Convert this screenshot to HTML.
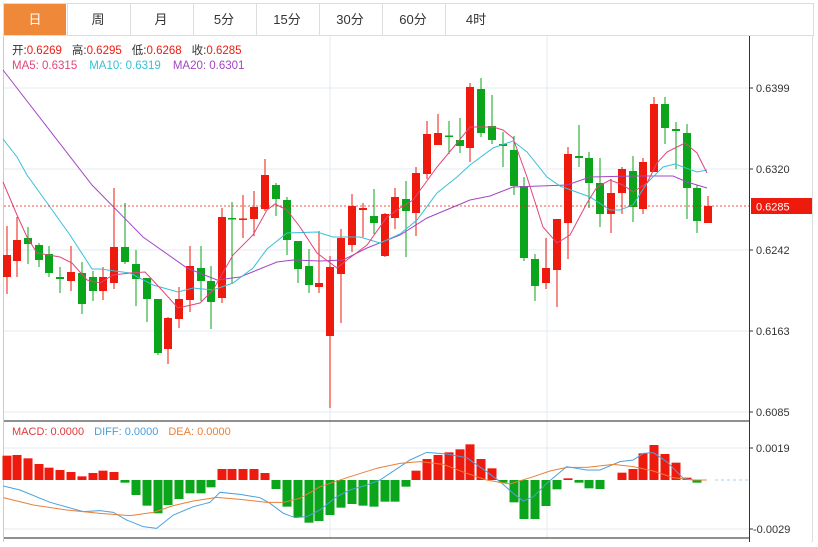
<!DOCTYPE html>
<html><head><meta charset="utf-8"><style>
body{margin:0;background:#fff;width:818px;height:542px;overflow:hidden;font-family:"Liberation Sans","Noto Sans CJK SC",sans-serif}
</style></head><body>
<svg id="s" width="818" height="542" xmlns="http://www.w3.org/2000/svg" font-family="Liberation Sans, Noto Sans CJK SC, sans-serif"></svg>
<script>
const s=document.getElementById('s');let h='';
h+='<rect x="3.5" y="3.5" width="810" height="32" fill="#fff" stroke="#ddd"/>';
const tabs=['日','周','月','5分','15分','30分','60分','4时'];
for(let i=0;i<8;i++){const x=4+i*63;
 if(i==0)h+=`<rect x="4" y="4" width="62" height="31" fill="#f0883a"/>`;
 else h+=`<line x1="${x+0.5}" y1="4" x2="${x+0.5}" y2="35" stroke="#ddd"/>`;
 h+=`<text x="${x+31}" y="24" font-size="13" text-anchor="middle" fill="${i==0?'#fff':'#333'}">${tabs[i]}</text>`;}
h+='<line x1="3.5" y1="36" x2="3.5" y2="542" stroke="#ccc"/>';
h+='<line x1="812.5" y1="36" x2="812.5" y2="542" stroke="#ddd"/>';
[88,169,250,331,412].forEach(y=>h+=`<line x1="4" y1="${y}" x2="749" y2="${y}" stroke="#e6ebf0"/>`);
[330,547].forEach(x=>h+=`<line x1="${x}" y1="36" x2="${x}" y2="538" stroke="#e6ebf0"/>`);
[448,529].forEach(y=>h+=`<line x1="4" y1="${y}" x2="749" y2="${y}" stroke="#e6ebf0"/>`);
h+='<line x1="749.5" y1="36" x2="749.5" y2="542" stroke="#333"/>';
h+='<line x1="4" y1="421" x2="749" y2="421" stroke="#222"/><line x1="4" y1="538" x2="749" y2="538" stroke="#222"/>';
[[88,'0.6399'],[169,'0.6320'],[250,'0.6242'],[331,'0.6163'],[412,'0.6085'],[448,'0.0019'],[529,'-0.0029']].forEach(([y,t])=>{
 h+=`<line x1="749" y1="${y}" x2="753" y2="${y}" stroke="#333"/><text x="${t[0]=='-'?753:756}" y="${y+4}" font-size="11" fill="#333">${t}</text>`;});
const c=[[7,255,277,226,294,'r'],[17,240,261,217,277,'r'],[28,238,244,227,264,'g'],[39,245,260,243,267,'g'],[49,254,273,246,277,'g'],[60,277,279,267,293,'g'],[71,272,281,246,291,'r'],[82,273,304,262,314,'g'],[93,277,291,271,301,'g'],[103,277,291,267,300,'r'],[114,247,283,188,289,'r'],[125,247,262,203,264,'g'],[136,264,279,250,306,'g'],[147,278,299,278,322,'g'],[158,299,353,299,355,'g'],[168,318,349,317,364,'r'],[179,299,319,287,328,'r'],[190,266,300,246,312,'r'],[201,268,281,246,301,'g'],[211,281,302,266,329,'g'],[222,217,298,208,303,'r'],[232,218,219.5,202,284,'g'],[243,218.5,220,195,238,'r'],[254,207,219,191,236,'r'],[265,175,209,159,211,'r'],[276,185,199,183,216,'g'],[287,200,240,197,255,'g'],[298,241,269,241,283,'g'],[309,266,285,249,293,'g'],[319,283,287,231,293,'r'],[330,267,336,256,408,'r'],[341,238,274,229,323,'r'],[352,206,245,194,252,'r'],[363,208,210,203,237,'r'],[374,216,223,189,234,'g'],[385,214,256,213,257,'r'],[395,197,218,188,229,'r'],[406,199,211,181,257,'g'],[416,173,213,167,236,'r'],[427,134,174,121,179,'r'],[438,133,145,114,145,'r'],[449,135.5,137,121,154,'g'],[460,140,146,118,153,'g'],[470,87,148,83,162,'r'],[481,89,133,78,137,'g'],[492,126,140,95,144,'g'],[503,144,146,132,167,'g'],[514,150,186,136,195,'g'],[524,186,258,177,261,'g'],[535,259,286,254,301,'g'],[546,268,283,238,289,'r'],[557,219,270,219,307,'r'],[568,154,223,147,259,'r'],[579,156,158,125,167,'g'],[589,158,183,152,208,'g'],[600,183,214,158,227,'g'],[611,193,214,179,233,'r'],[622,169,193,167,214,'r'],[633,171,207,156,222,'g'],[643,162,209,158,214,'r'],[654,104,172,97,172,'r'],[665,104,128,97,144,'g'],[676,129,131,122,169,'g'],[687,133,188,124,219,'g'],[697,188,221,185,233,'g'],[708,206,223,196,223,'r']];
const R='#ef1a0e',G='#0ba51b';
c.forEach(([x,t,b,wt,wb,k])=>{const col=k=='r'?R:G;
 h+=`<line x1="${x}" y1="${wt}" x2="${x}" y2="${wb}" stroke="${col}"/>`;
 h+=`<rect x="${x-4}" y="${t}" width="8" height="${Math.max(b-t,1.5)}" fill="${col}"/>`;});
const pl=(pts,col,w)=>`<polyline fill="none" stroke="${col}" stroke-width="${w||1}" points="${pts.map(p=>p.join(',')).join(' ')}"/>`;
h+=pl([[3,70],[92,185],[143,237],[187,268],[217,280],[240,277],[277,262],[293,260],[320,261],[343,260],[367,248],[400,235],[427,218],[470,200],[490,196],[513,187],[567,185],[590,177],[633,176],[673,176],[687,182],[707,188]],'#a347c4');
h+=pl([[3,139],[17,157],[27,175],[50,207],[70,235],[92,269],[100,269],[130,273],[153,285],[178,292],[193,288],[213,290],[233,283],[253,268],[267,249],[287,233],[317,232],[333,237],[360,237],[380,243],[400,234],[417,220],[437,193],[457,177],[470,165],[493,148],[513,141],[527,152],[547,177],[560,186],[590,197],[610,210],[620,210],[633,205],[647,183],[663,167],[675,164],[697,172],[707,170]],'#38c0d8');
h+=pl([[3,182],[17,215],[27,237],[37,253],[60,257],[72,263],[87,280],[100,283],[113,275],[130,273],[145,272],[160,288],[178,308],[200,303],[213,290],[233,255],[253,235],[267,210],[275,204],[287,210],[300,227],[317,253],[337,268],[347,260],[367,245],[387,217],[400,208],[413,200],[437,167],[457,143],[470,127],[493,127],[503,130],[513,138],[527,177],[543,227],[557,243],[570,235],[587,203],[597,187],[610,180],[623,185],[633,192],[647,183],[657,163],[667,152],[685,143],[697,153],[707,173]],'#e0457b');
h+=`<line x1="4" y1="206" x2="749" y2="206" stroke="#ef1a0e" stroke-dasharray="2,2" stroke-width="0.8"/>`;
h+=`<rect x="751" y="198" width="61" height="16" fill="${R}"/><text x="756" y="210.5" font-size="11" fill="#fff">0.6285</text>`;
h+=`<text y="54" font-size="11.5"><tspan x="12" fill="#333">开:</tspan><tspan fill="${R}">0.6269</tspan><tspan dx="10" fill="#333">高:</tspan><tspan fill="${R}">0.6295</tspan><tspan dx="10" fill="#333">低:</tspan><tspan fill="${R}">0.6268</tspan><tspan dx="10" fill="#333">收:</tspan><tspan fill="${R}">0.6285</tspan></text>`;
h+=`<text y="69" font-size="11.5"><tspan x="12" fill="#e0457b">MA5: 0.6315</tspan><tspan dx="12" fill="#38c0d8">MA10: 0.6319</tspan><tspan dx="12" fill="#a347c4">MA20: 0.6301</tspan></text>`;
h+=`<text y="435" font-size="11"><tspan x="12" fill="#e03a3a">MACD: 0.0000</tspan><tspan dx="10" fill="#4aa0e0">DIFF: 0.0000</tspan><tspan dx="10" fill="#e8803a">DEA: 0.0000</tspan></text>`;
const hz=[122,120,130,147,158,165,171,184,174,167,171,203,240,272,295,270,252,235,235,217,162,162,162,162,174,222,275,307,323,318,300,278,267,272,275,260,260,215,167,132,120,112,103,88,132,160,203,262,312,312,273,223,190,203,220,222,null,173,162,115,90,117,143,188,203,null];
hz.forEach((z,i)=>{if(z==null)return;const x=c[i][0];const y=415+z/3;const t=Math.min(y,480),b=Math.max(y,480);
 h+=`<rect x="${x-4.5}" y="${t}" width="9" height="${Math.max(b-t,1.5)}" fill="${y<480?R:G}"/>`;});
h+=`<line x1="715" y1="480" x2="749" y2="480" stroke="#9fd4ec" stroke-dasharray="3,3"/>`;
const cv=(a,ox)=>a.map(([x,y])=>[ox+x/3,415+y/3]);
h+=pl(cv([[10,213],[60,225],[150,262],[250,290],[300,287],[340,292],[380,315],[430,335],[470,340],[520,300],[580,275],[630,262],[660,232],[720,238],[780,248],[810,265],[850,295],[885,308],[920,305],[960,285],[1010,245],[1050,225],[1100,210],[1140,195],[1200,155]],0).concat(cv([[30,135],[80,112],[140,117],[200,128],[260,170],[300,200],[340,235],[370,258],[400,245],[440,205],[500,155],[560,165],[600,165],[660,140],[700,135],[730,115],[760,113],[800,140],[850,190],[880,195],[920,195]],400)),'#4aa0e0');
h+=pl(cv([[10,248],[100,270],[200,285],[300,295],[390,302],[460,292],[520,272],[580,258],[650,247],[720,253],[800,262],[850,262],[900,250],[960,215],[1050,185],[1130,160],[1200,145]],0).concat(cv([[60,140],[130,148],[200,175],[260,195],[330,207],[400,185],[450,168],[500,157],[560,157],[640,148],[700,155],[760,168],[820,188],[880,195],[920,195]],400)),'#e8803a');
s.innerHTML=h;
</script>
</body></html>
